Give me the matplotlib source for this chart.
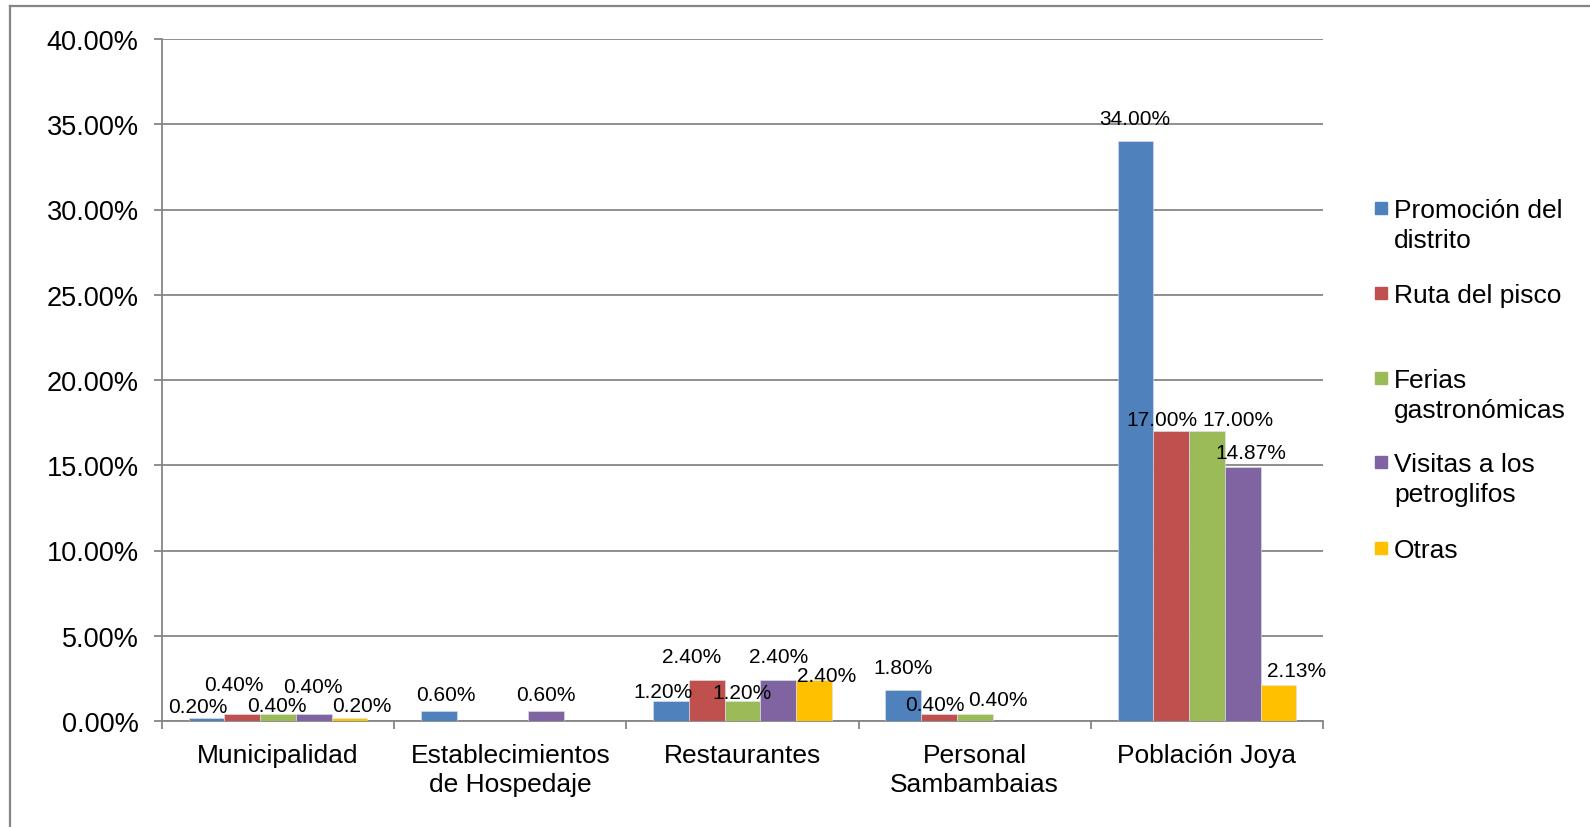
import numpy as np
import matplotlib
matplotlib.use("Agg")
import matplotlib.pyplot as plt
from matplotlib.patches import Rectangle
from matplotlib.lines import Line2D
from matplotlib.ticker import FuncFormatter, FixedLocator

plt.rcParams['font.family'] = ['Liberation Sans', 'DejaVu Sans']

# ---- data ----
categories = ["Municipalidad", "Establecimientos\nde Hospedaje", "Restaurantes",
              "Personal\nSambambaias", "Población Joya"]
series_names = ["Promoción del\ndistrito", "Ruta del pisco", "Ferias\ngastronómicas",
                "Visitas a los\npetroglifos", "Otras"]
promocion = [0.0020, 0.0060, 0.0120, 0.0180, 0.3400]
ruta_pisco = [0.0040, 0.0, 0.0240, 0.0040, 0.1700]
ferias = [0.0040, 0.0, 0.0120, 0.0040, 0.1700]
visitas = [0.0040, 0.0060, 0.0240, 0.0, 0.1487]
otras = [0.0020, 0.0, 0.0240, 0.0, 0.0213]
yticks = [0.0, 0.05, 0.10, 0.15, 0.20, 0.25, 0.30, 0.35, 0.40]

series = [promocion, ruta_pisco, ferias, visitas, otras]
colors = ["#4F81BD", "#C0504D", "#9BBB59", "#8064A2", "#FFC000"]

# label offsets (pixels) per series (rows), per category (columns): (dx, dy)
label_offsets = [
    [(-9, 11), (7, 16), (-8, 9), (0, 23), (-1, 23)],
    [(-8, 30), (0, 0), (-15, 24), (-4, 10), (-9, 12)],
    [(-1, 9), (0, 0), (0, 8), (23, 15), (31, 12)],
    [(-1, 28), (0, 16), (0, 24), (0, 0), (8, 15)],
    [(12, 12), (0, 0), (13, 5), (0, 0), (18, 14)],
]

W, H = 1590, 828
fig = plt.figure(figsize=(W / 100, H / 100), dpi=100)
ax = fig.add_axes([162 / W, 1 - 722 / H, (1323 - 162) / W, (722 - 40) / H])

gray = "#868686"
n = len(series)
width = 0.77 / n
x = np.arange(len(categories))
for i, (vals, col) in enumerate(zip(series, colors)):
    pos = x + (i - (n - 1) / 2) * width
    ax.bar(pos, vals, width, color=col, edgecolor="#dde6f0", linewidth=0.4, zorder=3)
    for j, (p, v) in enumerate(zip(pos, vals)):
        if v > 0:
            dx, dy = label_offsets[i][j]
            ax.annotate(f"{v*100:.2f}%", xy=(p, v), xytext=(dx, dy),
                        textcoords="offset pixels", ha="center", va="center",
                        fontsize=15, color="black", zorder=5)

ax.set_xlim(-0.5, len(categories) - 0.5)
ax.set_ylim(0, 0.40)
ax.set_yticks(yticks)
ax.yaxis.set_major_formatter(FuncFormatter(lambda v, _: f"{v*100:.2f}%"))
ax.yaxis.grid(True, color=gray, linewidth=1.3)
ax.set_axisbelow(True)

ax.xaxis.set_major_locator(FixedLocator(np.arange(-0.5, len(categories), 1.0)))
ax.xaxis.set_major_formatter(FuncFormatter(lambda v, _: ""))
ax.xaxis.set_minor_locator(FixedLocator(x))
ax.set_xticklabels(categories, minor=True)
ax.tick_params(axis="x", which="major", length=5.8, width=1.3, color=gray)
ax.tick_params(axis="x", which="minor", length=0, pad=15.5, labelsize=19, labelcolor="black")
for t in ax.get_xticklabels(minor=True):
    t.set_linespacing(1.3)
ax.tick_params(axis="y", length=5.8, width=1.3, color=gray, pad=11, labelsize=19.5)

for s in ["top", "right"]:
    ax.spines[s].set_visible(False)
for s in ["left", "bottom"]:
    ax.spines[s].set_color(gray)
    ax.spines[s].set_linewidth(1.3)

# legend (manual, Excel-like)
leg_y = [209, 294, 379, 463, 549]
for name, col, yy in zip(series_names, colors, leg_y):
    fig.add_artist(Rectangle((1375 / W, 1 - (yy + 6) / H), 12 / W, 12 / H,
                             transform=fig.transFigure, color=col))
    fig.text(1394 / W, 1 - (yy - 10) / H, name, fontsize=19, va="top", ha="left",
             linespacing=1.3)

# outer border
fig.add_artist(Line2D([10 / W, 10 / W], [0, 1 - 7 / H], transform=fig.transFigure,
                      color=gray, linewidth=1.6))
fig.add_artist(Line2D([10 / W, 1], [1 - 7 / H, 1 - 7 / H], transform=fig.transFigure,
                      color=gray, linewidth=1.6))

fig.savefig("out.png", dpi=100)
